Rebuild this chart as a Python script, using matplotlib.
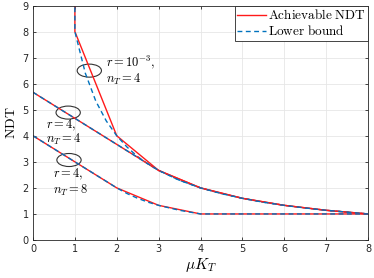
import matplotlib
matplotlib.use("Agg")
import matplotlib.pyplot as plt
from matplotlib.patches import Ellipse

plt.rcParams['mathtext.fontset'] = 'cm'
plt.rcParams['font.family'] = ['DejaVu Sans']

# r = 1e-3, n_T = 4
ach_a_x = [1, 1, 2, 3, 4, 5, 6, 7, 8]
ach_a_y = [9.6, 8, 4, 2.67, 2, 1.6, 1.33, 1.14, 1]
lb_a_x = [1, 1, 1.25, 1.5, 1.75, 2, 2.25, 2.5, 2.75, 3, 3.5, 4, 4.5, 5, 5.5, 6, 6.5, 7, 7.5, 8]
lb_a_y = [9.6, 8, 6.4, 5.33, 4.57, 4, 3.56, 3.2, 2.91, 2.67, 2.29, 2, 1.78, 1.6, 1.45, 1.33, 1.23, 1.14, 1.07, 1]

# r = 4, n_T = 4
ach_b_x = [0, 1, 2, 3, 4, 5, 6, 7, 8]
ach_b_y = [5.67, 4.67, 3.67, 2.67, 2, 1.6, 1.33, 1.14, 1]
lb_b_x = [0, 3, 3.5, 4, 4.5, 5, 5.5, 6, 6.5, 7, 7.5, 8]
lb_b_y = [5.67, 2.67, 2.29, 2, 1.78, 1.6, 1.45, 1.33, 1.23, 1.14, 1.07, 1]

# r = 4, n_T = 8
ach_c_x = [0, 1, 2, 3, 4, 8]
ach_c_y = [4, 3, 2, 1.33, 1, 1]
lb_c_x = [0, 2, 2.25, 2.5, 2.75, 3, 3.5, 4, 8]
lb_c_y = [4, 2, 1.78, 1.6, 1.45, 1.33, 1.14, 1, 1]

red = '#ff1a1a'
blue = '#0072bd'
dash = (3.5, 2.5)

fig = plt.figure(figsize=(3.74, 2.78), dpi=100)
ax = fig.add_axes([0.0882, 0.1367, 0.8958, 0.8435])

curves = [(ach_a_x, ach_a_y, lb_a_x, lb_a_y),
          (ach_b_x, ach_b_y, lb_b_x, lb_b_y),
          (ach_c_x, ach_c_y, lb_c_x, lb_c_y)]
for i, (ax_x, ax_y, lx, ly) in enumerate(curves):
    ax.plot(ax_x, ax_y, color=red, lw=1.0, label='$\\mathrm{Achievable\\ NDT}$' if i == 0 else None)
    ax.plot(lx, ly, color=blue, lw=1.0, dashes=dash, label='$\\mathrm{Lower\\ bound}$' if i == 0 else None)

# ellipses and labels
for (cx, cy) in [(1.345, 6.5), (0.84, 4.89), (0.86, 3.07)]:
    ax.add_patch(Ellipse((cx, cy), 0.58, 0.5, fill=False, ec='#333333', lw=0.8))

tfs = 9
ax.text(1.74, 6.8, '$r=10^{-3},$', fontsize=tfs, va='center')
ax.text(1.74, 6.18, '$n_T=4$', fontsize=tfs, va='center')
ax.text(0.31, 4.4, '$r=4,$', fontsize=tfs, va='center')
ax.text(0.31, 3.86, '$n_T=4$', fontsize=tfs, va='center')
ax.text(0.47, 2.5, '$r=4,$', fontsize=tfs, va='center')
ax.text(0.47, 1.92, '$n_T=8$', fontsize=tfs, va='center')

ax.set_xlim(0, 8)
ax.set_ylim(0, 9)
ax.set_xticks(range(0, 9))
ax.set_yticks(range(0, 10))
ax.grid(True, color='#e6e6e6', lw=0.6)
ax.set_axisbelow(True)
ax.tick_params(direction='in', length=2.5, width=0.6, labelsize=7,
               colors='#262626', top=True, right=True, pad=3)
for s in ax.spines.values():
    s.set_color('#262626')
    s.set_linewidth(0.6)

ax.set_xlabel('$\\mu K_T$', fontsize=11, labelpad=1)
ax.set_ylabel('$\\mathrm{NDT}$', fontsize=10, labelpad=3)

leg = ax.legend(loc='upper right', fontsize=9.5, handlelength=2.2, handletextpad=0.1,
                borderpad=0.2, labelspacing=0.15, borderaxespad=0.0, fancybox=False, framealpha=1)
leg.get_frame().set_edgecolor('#262626')
leg.get_frame().set_linewidth(0.6)

fig.savefig('out.png', dpi=100)
